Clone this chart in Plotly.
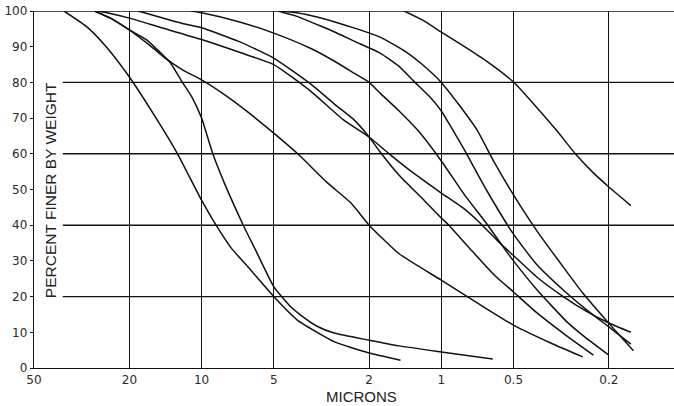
import plotly.graph_objects as go
import math

# ---- data (microns, percent finer by weight) ----
A_x = [37.5, 30, 25, 20, 15, 12.6, 10, 8.7, 7.5, 6.4, 5, 4, 3.2, 2.8, 2.4, 2, 1.48]
A_y = [100, 95.5, 90, 81.5, 68.5, 60, 47, 40, 33.5, 28.3, 20, 13.5, 9.5, 7.4, 5.8, 4.2, 2.2]

B_x = [28, 24, 20, 17, 15.2, 13.5, 12.2, 11, 10, 9.0, 8, 6.7, 6, 5, 4.3, 3.86, 3.3, 2.8, 2, 1.5, 1, 0.61]
B_y = [100, 98, 94.7, 92, 89, 85.5, 80.7, 76, 70, 60.2, 51.5, 40, 33.5, 22.8, 17.5, 14.8, 11.7, 9.8, 7.8, 6.2, 4.5, 2.5]

C_x = [28, 24, 20, 16.2, 14, 12, 10, 8, 6.5, 5, 3.97, 3, 2.38, 2, 1.5, 1, 0.7, 0.5, 0.35, 0.257]
C_y = [100, 98, 94.7, 90, 86.5, 83.5, 80.7, 76.5, 72, 65.8, 60, 52, 46.2, 40, 32, 24.6, 18, 12, 7, 3.1]

D_x = [27, 24, 20, 15, 10, 7, 5, 3.5, 2.56, 2, 1.65, 1.3, 1, 0.8, 0.686, 0.58, 0.5, 0.4, 0.31, 0.25, 0.2, 0.162]
D_y = [100, 99.3, 98, 95.5, 92, 88.5, 85, 77.5, 69.5, 64.7, 60, 54.5, 49, 44.5, 40.5, 35.5, 31.5, 25.5, 20, 16, 12.6, 10]

E_x = [18.4, 15, 12, 10, 7, 5, 3.5, 2.8, 2.31, 2, 1.8, 1.5, 1.2, 1, 0.93, 0.75, 0.6, 0.5, 0.4, 0.3, 0.232]
E_y = [100, 98.3, 96.5, 95.3, 91.5, 86.8, 79.5, 74, 69.5, 64.7, 60.5, 54, 47.5, 42, 40, 33, 26, 21.3, 15.5, 9, 3.6]

H_x = [11.1, 10, 7, 5, 3.5, 2.8, 2.3, 2, 1.8, 1.5, 1.25, 1, 0.8, 0.64, 0.56, 0.5, 0.4, 0.3, 0.25, 0.2]
H_y = [100, 99.5, 97, 93.8, 89.5, 86, 82.5, 80, 77, 72, 66.5, 58, 48.5, 40, 34.5, 30, 22, 13, 8.5, 3.6]

G_x = [4.8, 4, 3.3, 2.8, 2.3, 1.8, 1.5, 1.31, 1.1, 1, 0.92, 0.8, 0.65, 0.5, 0.4, 0.3, 0.25, 0.2, 0.162]
G_y = [100, 98.5, 96.2, 94.2, 91.5, 88.2, 84.5, 80.5, 75.5, 72, 68, 61, 50, 37.5, 29, 21, 16.5, 11.5, 6.7]

F_x = [4.8, 4, 3.3, 2.8, 2.3, 1.8, 1.4, 1.2, 1, 0.85, 0.707, 0.6, 0.5, 0.4, 0.3, 0.257, 0.2, 0.158]
F_y = [100, 99.5, 98.3, 97, 95.2, 92.7, 88.5, 85, 80, 74, 66.5, 57.5, 48.5, 38.5, 27, 21, 12.5, 4.8]

I_x = [1.43, 1.2, 1, 0.8, 0.65, 0.5, 0.4, 0.33, 0.276, 0.235, 0.2, 0.162]
I_y = [100, 97.5, 94.1, 90, 86, 80.1, 73, 66.5, 60, 55, 50.7, 45.5]

x_ticks = [50, 20, 10, 5, 2, 1, 0.5, 0.2]
x_labels = ["50", "20", "10", "5", "2", "1", "0.5", "0.2"]
y_ticks = [0, 10, 20, 30, 40, 50, 60, 70, 80, 90, 100]
y_grid = [20, 40, 60, 80]

curves = [(A_x, A_y), (B_x, B_y), (C_x, C_y), (D_x, D_y), (E_x, E_y),
          (H_x, H_y), (G_x, G_y), (F_x, F_y), (I_x, I_y)]

fig = go.Figure()
for xs, ys in curves:
    fig.add_trace(go.Scatter(x=xs, y=ys, mode="lines",
                             line=dict(color="#111111", width=1.5, shape="spline", smoothing=0.5),
                             hoverinfo="skip", showlegend=False))

shapes = []
for v in y_grid:
    shapes.append(dict(type="line", xref="paper", yref="y", x0=0.045, x1=1, y0=v, y1=v,
                       line=dict(color="#111111", width=1.4), layer="below"))
shapes.append(dict(type="line", xref="paper", yref="y", x0=0, x1=1, y0=100, y1=100,
                   line=dict(color="#111111", width=1.4), layer="below"))

fig.update_layout(
    width=674, height=406,
    margin=dict(l=34, r=0, t=11, b=38),
    paper_bgcolor="white", plot_bgcolor="white",
    shapes=shapes,
    font=dict(family="DejaVu Sans, Liberation Sans, sans-serif", size=12, color="#2a2a2a"),
    xaxis=dict(type="log", range=[math.log10(50), math.log10(0.107)],
               tickvals=x_ticks, ticktext=x_labels, automargin=False,
               showgrid=True, gridcolor="#111111", gridwidth=1.4,
               showline=True, linecolor="#111111", linewidth=1.4,
               ticks="", zeroline=False, tickfont=dict(size=12)),
    yaxis=dict(range=[0, 100], tickvals=y_ticks, automargin=False,
               showgrid=False, showline=True, linecolor="#111111", linewidth=1.4,
               ticks="outside", ticklen=3, tickcolor="#111111",
               zeroline=False, tickfont=dict(size=12)),
    annotations=[
        dict(text="PERCENT FINER BY WEIGHT", xref="paper", yref="paper",
             x=0.027, y=0.499, textangle=-90, showarrow=False,
             font=dict(family="Liberation Sans, Arial, sans-serif", size=15.5, color="#222222"),
             xanchor="center", yanchor="middle"),
        dict(text="MICRONS", xref="paper", yref="paper", x=0.511, y=-0.081,
             showarrow=False,
             font=dict(family="Liberation Sans, Arial, sans-serif", size=15, color="#222222"),
             xanchor="center", yanchor="middle"),
    ],
)

fig.write_html("out.html", config={"displayModeBar": False},
               post_script="document.body.style.margin='0px';")
